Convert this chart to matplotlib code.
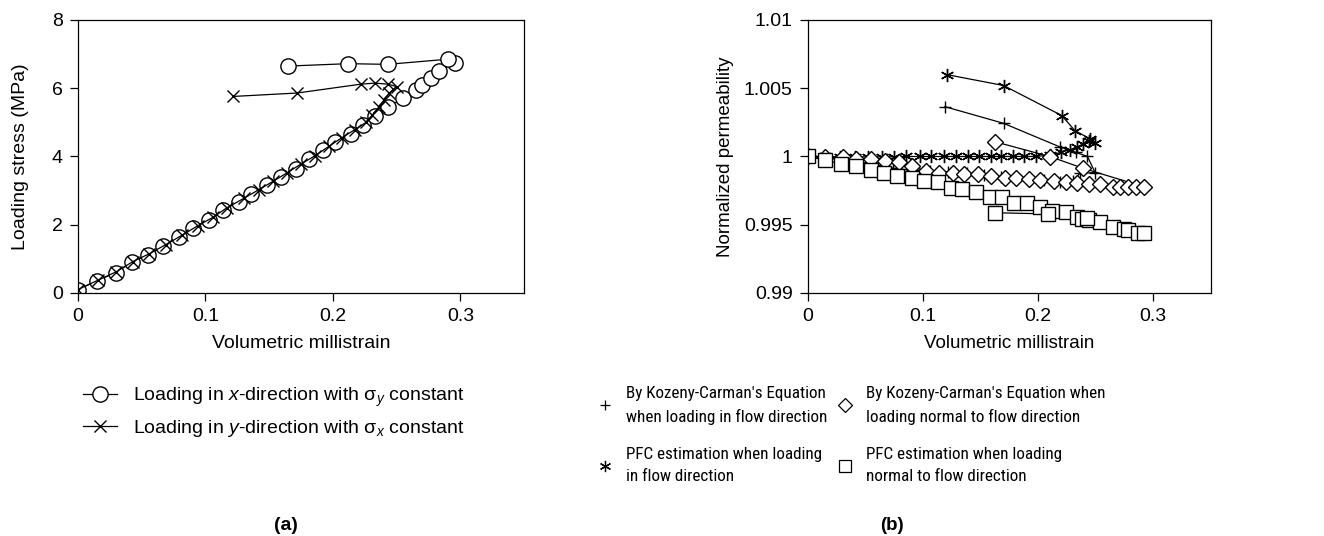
import numpy as np
import matplotlib
matplotlib.use('Agg')
import matplotlib.pyplot as plt
from matplotlib import font_manager
from matplotlib.ticker import FuncFormatter

plt.rcParams['font.family'] = ['Liberation Sans', 'DejaVu Sans']
plt.rcParams['mathtext.fontset'] = 'custom'
plt.rcParams['mathtext.rm'] = 'Liberation Sans'
plt.rcParams['mathtext.it'] = 'Liberation Sans:italic'
plt.rcParams['font.size'] = 14

# panel (b) legend in the reference is a narrow face; use one if installed
names = {f.name for f in font_manager.fontManager.ttflist}
if 'Liberation Sans Narrow' in names:
    NARROW, nsize, lsp = 'Liberation Sans Narrow', 13, 1.25
elif 'Roboto Condensed' in names:
    NARROW, nsize, lsp = 'Roboto Condensed', 12.3, 1.6
else:
    NARROW, nsize, lsp = 'Liberation Sans', 11, 1.45

# ---- panel (a): loading stress vs volumetric millistrain
ax_x = [0, 0.015, 0.030, 0.042, 0.055, 0.067, 0.079, 0.090, 0.103, 0.114, 0.126, 0.136,
        0.148, 0.159, 0.171, 0.181, 0.192, 0.202, 0.214, 0.224, 0.233, 0.243, 0.255, 0.265,
        0.270, 0.277, 0.283, 0.296, 0.290, 0.243, 0.212, 0.165]
ax_y = [0.1, 0.36, 0.6, 0.9, 1.12, 1.37, 1.64, 1.9, 2.15, 2.42, 2.68, 2.91,
        3.15, 3.41, 3.64, 3.92, 4.18, 4.41, 4.66, 4.92, 5.18, 5.45, 5.7, 5.95,
        6.1, 6.3, 6.5, 6.75, 6.85, 6.7, 6.72, 6.65]

ay_x = [0, 0.016, 0.030, 0.043, 0.056, 0.069, 0.082, 0.094, 0.106, 0.117, 0.130, 0.142,
        0.153, 0.164, 0.175, 0.186, 0.197, 0.207, 0.217, 0.226, 0.231, 0.236, 0.240, 0.244,
        0.250, 0.243, 0.233, 0.222, 0.172, 0.122]
ay_y = [0.1, 0.38, 0.62, 0.92, 1.15, 1.42, 1.7, 1.97, 2.22, 2.5, 2.77, 3.03,
        3.27, 3.52, 3.78, 4.02, 4.3, 4.55, 4.78, 5.0, 5.22, 5.45, 5.65, 5.85,
        6.05, 6.12, 6.15, 6.12, 5.86, 5.76]

# ---- panel (b): normalized permeability
kc_flow_x = [0, 0.015, 0.030, 0.041, 0.052, 0.064, 0.074, 0.090, 0.106, 0.122, 0.138, 0.153,
             0.168, 0.190, 0.205, 0.219, 0.230, 0.2365, 0.2496, 0.243, 0.233, 0.219, 0.170, 0.119]
kc_flow_y = [1.0, 0.99995, 0.9997, 0.99965, 0.9995, 0.9993, 0.99913, 0.9990, 0.99894, 0.99888,
             0.99877, 0.99865, 0.99852, 0.99835, 0.99825, 0.99815, 0.9982, 0.99877, 0.99882,
             1.0000, 1.0003, 1.0007, 1.00243, 1.00365]

pfc_flow_x = [0, 0.0145, 0.0275, 0.041, 0.052, 0.064, 0.075, 0.0855, 0.097, 0.107, 0.118,
              0.129, 0.139, 0.149, 0.159, 0.168, 0.178, 0.188, 0.198, 0.210, 0.220, 0.228,
              0.234, 0.239, 0.244, 0.2496, 0.245, 0.232, 0.2206, 0.170, 0.1206]
pfc_flow_y = [1.0, 1.0, 0.99997, 0.99997, 0.99997, 0.99997, 0.99998, 1.0, 1.0, 1.0, 1.0,
              1.0, 1.0, 1.0, 1.0, 1.0, 1.0, 1.0, 1.0, 1.0001, 1.0003, 1.0005,
              1.0007, 1.0009, 1.0011, 1.001, 1.0013, 1.0019, 1.003, 1.0052, 1.006]

kc_norm_x = [0, 0.015, 0.030, 0.042, 0.055, 0.067, 0.079, 0.090, 0.103, 0.114, 0.126, 0.136,
             0.148, 0.159, 0.171, 0.181, 0.192, 0.202, 0.214, 0.224, 0.234, 0.244, 0.254, 0.265,
             0.271, 0.278, 0.285, 0.292, 0.2394, 0.2104, 0.1626]
kc_norm_y = [1.0, 0.99998, 0.99993, 0.99985, 0.99978, 0.9997, 0.9996, 0.9993, 0.9989, 0.99882,
             0.99877, 0.99875, 0.9987, 0.99855, 0.99845, 0.9984, 0.99835, 0.9983, 0.9982,
             0.99815, 0.99805, 0.998, 0.99798, 0.9978, 0.9978, 0.9978, 0.9978, 0.99778,
             0.99913, 0.99999, 1.00108]

pfc_norm_x = [0, 0.0148, 0.029, 0.042, 0.055, 0.066, 0.077, 0.0907, 0.101, 0.113, 0.124, 0.134,
              0.146, 0.158, 0.169, 0.179, 0.190, 0.202, 0.212, 0.224, 0.2335, 0.238, 0.244,
              0.254, 0.265, 0.275, 0.278, 0.287, 0.292, 0.243, 0.209, 0.1626]
pfc_norm_y = [1.0, 0.99974, 0.99945, 0.9993, 0.99901, 0.9988, 0.9986, 0.9984, 0.9982, 0.9981,
              0.99767, 0.9976, 0.9974, 0.99706, 0.9970, 0.9966, 0.9966, 0.9963, 0.9960, 0.9959,
              0.9956, 0.9954, 0.99536, 0.9952, 0.9948, 0.9947, 0.9946, 0.9944, 0.9944,
              0.9955, 0.99579, 0.99588]

fig = plt.figure(figsize=(13.24, 5.36), dpi=100)
ax1 = fig.add_axes([0.0589, 0.4534, 0.3369, 0.5093])
ax2 = fig.add_axes([0.6103, 0.4534, 0.3040, 0.5093])

lw = 0.9
ax1.plot(ax_x, ax_y, color='black', lw=lw, marker='o', ms=11, mfc='white', mec='black', mew=1.0,
         label=r'Loading in $x$-direction with σ$_y$ constant')
ax1.plot(ay_x, ay_y, color='black', lw=lw, marker='x', ms=9, mew=1.0,
         label=r'Loading in $y$-direction with σ$_x$ constant')
ax1.set_xlim(0, 0.35)
ax1.set_ylim(0, 8)
ax1.set_xticks([0, 0.1, 0.2, 0.3])
ax1.set_yticks([0, 2, 4, 6, 8])
ax1.xaxis.set_major_formatter(FuncFormatter(lambda v, p: '%g' % round(v, 3)))
ax1.set_xlabel('Volumetric millistrain', labelpad=7)
ax1.set_ylabel('Loading stress (MPa)', labelpad=16)

p1, = ax2.plot(kc_flow_x, kc_flow_y, color='black', lw=lw, marker='+', ms=8, mew=1.0)
p2, = ax2.plot(pfc_flow_x, pfc_flow_y, color='black', lw=lw, marker=(6, 2, 0), ms=9.5, mew=1.0)
p3, = ax2.plot(kc_norm_x, kc_norm_y, color='black', lw=lw, marker='D', ms=8, mfc='white', mec='black', mew=1.0)
p4, = ax2.plot(pfc_norm_x, pfc_norm_y, color='black', lw=lw, marker='s', ms=9.5, mfc='white', mec='black', mew=1.0)
ax2.set_xlim(0, 0.35)
ax2.set_ylim(0.99, 1.01)
ax2.set_xticks([0, 0.1, 0.2, 0.3])
ax2.set_yticks([0.99, 0.995, 1.0, 1.005, 1.01])
ax2.xaxis.set_major_formatter(FuncFormatter(lambda v, p: '%g' % round(v, 3)))
ax2.yaxis.set_major_formatter(FuncFormatter(lambda v, p: '%g' % round(v, 4)))
ax2.set_xlabel('Volumetric millistrain', labelpad=7, fontsize=13.5)
ax2.set_ylabel('Normalized permeability', labelpad=7, fontsize=13.5)

for ax in (ax1, ax2):
    for s in ax.spines.values():
        s.set_linewidth(0.9)
    ax.tick_params(direction='out', length=6, width=0.9, pad=5, labelsize=14)

# legend (a)
h1, l1 = ax1.get_legend_handles_labels()
ax1.legend(h1, l1, loc='upper left', bbox_to_anchor=(83 / 1324, 1 - 386 / 536),
           bbox_transform=fig.transFigure, frameon=False, borderpad=0, borderaxespad=0,
           handlelength=1.75, handletextpad=0.8, labelspacing=0.45, fontsize=14)

# legend (b): two columns, placed separately
def mk(line, scale=0.85):
    return plt.Line2D([], [], ls='none', marker=line.get_marker(), ms=line.get_markersize() * scale,
                      mfc=line.get_markerfacecolor(), mec='black', mew=0.9, color='black')

col1_labels = ["By Kozeny-Carman's Equation\nwhen loading in flow direction",
               'PFC estimation when loading\nin flow direction']
col2_labels = ["By Kozeny-Carman's Equation when\nloading normal to flow direction",
               'PFC estimation when loading\nnormal to flow direction']
px = nsize * 100 / 72
leg_kw = dict(loc='upper left', bbox_transform=fig.transFigure, frameon=False, borderpad=0,
              borderaxespad=0, handlelength=18.0 / px, handletextpad=12.0 / px, labelspacing=1.3,
              prop={'family': NARROW, 'size': nsize})
legA = ax2.legend([mk(p1), mk(p2)], col1_labels, bbox_to_anchor=(596 / 1324, 1 - 386 / 536), **leg_kw)
legB = ax2.legend([mk(p3), mk(p4)], col2_labels, bbox_to_anchor=(836 / 1324, 1 - 386 / 536), **leg_kw)
for lg in (legA, legB):
    for t in lg.get_texts():
        t.set_linespacing(lsp)
ax2.add_artist(legA)

fig.text(286 / 1324, 1 - 525 / 536, '(a)', ha='center', va='center', fontweight='bold', fontsize=14)
fig.text(892 / 1324, 1 - 525 / 536, '(b)', ha='center', va='center', fontweight='bold', fontsize=13.5)

fig.savefig('out.png', dpi=100)
